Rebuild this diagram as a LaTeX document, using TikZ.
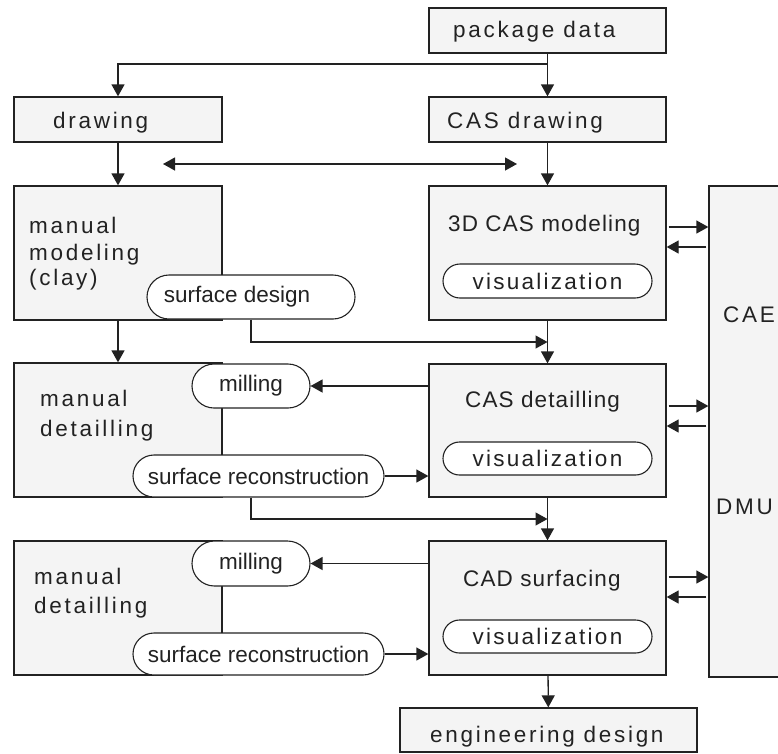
\documentclass[tikz,border=0pt]{standalone}
\usepackage{fontspec}
\setmainfont{Liberation Sans}
\newfontfamily\fA[LetterSpace=12]{Liberation Sans}
\newfontfamily\fB[LetterSpace=5]{Liberation Sans}
\newfontfamily\fC[LetterSpace=10]{Liberation Sans}
\newcommand{\fsz}{\fontsize{22.5}{27}\selectfont}
\usetikzlibrary{arrows.meta,shapes.misc}
\definecolor{boxgray}{HTML}{F4F4F4}
\definecolor{linec}{HTML}{222222}
\tikzset{
  box/.style={draw=linec, line width=1.3pt, fill=boxgray, inner sep=0pt},
  pill/.style={rounded rectangle, draw=linec, line width=1.1pt, fill=white, inner sep=0pt, font=\fsz, text=linec},
  lblA/.style={anchor=base west, inner sep=0pt, font=\fA\fsz, text=linec},
  lblB/.style={anchor=base west, inner sep=0pt, font=\fB\fsz, text=linec},
  arr/.style={draw=linec, line width=1.3pt, -{Triangle[length=12pt,width=13pt]}},
  arrR/.style={arr, shorten <=2pt},
  arr2/.style={draw=linec, line width=1.3pt, {Triangle[length=12pt,width=13pt]}-{Triangle[length=12pt,width=13pt]}}
}
\begin{document}
\begin{tikzpicture}[x=1pt,y=-1pt]
\useasboundingbox (0,0) rectangle (778,753);
% boxes
\node[box, minimum width=237pt, minimum height=45pt] (pkg) at (547.5,30.5) {};
\node[box, minimum width=208pt, minimum height=45pt] (drawing) at (118,119.5) {};
\node[box, minimum width=237pt, minimum height=45pt] (casdraw) at (547.5,119.5) {};
\node[box, minimum width=208pt, minimum height=134pt] (manmod) at (118,253) {};
\node[box, minimum width=237pt, minimum height=134pt] (cas3d) at (547.5,253) {};
\node[box, minimum width=80pt, minimum height=491pt] (cae) at (749,431.5) {};
\node[box, minimum width=208pt, minimum height=134pt] (mdet1) at (118,430) {};
\node[box, minimum width=237pt, minimum height=133pt] (casdet) at (547.5,430.5) {};
\node[box, minimum width=208pt, minimum height=134pt] (mdet2) at (118,608) {};
\node[box, minimum width=237pt, minimum height=134pt] (cadsurf) at (547.5,608) {};
\node[box, minimum width=297pt, minimum height=44pt] (engdes) at (548.5,730) {};
% box labels
\node[lblA] (tpkg) at (453,37) {package data};
\node[lblA] (tdraw) at (53,128) {drawing};
\node[lblA] (tcasdraw) at (447,128) {CAS drawing};
\node[lblA] (tmm1) at (29,233) {manual};
\node[lblA] (tmm2) at (29,260) {modeling};
\node[lblA] (tmm3) at (29,285) {(clay)};
\node[lblB] (t3d) at (448,231) {3D CAS modeling};
\node[lblB] (tcasdet) at (465,407) {CAS detailling};
\node[lblB] (tcad) at (463,586) {CAD surfacing};
\node[lblA] (tmd1a) at (40,406) {manual};
\node[lblA] (tmd1b) at (40,436) {detailling};
\node[lblA] (tmd2a) at (34,584) {manual};
\node[lblA] (tmd2b) at (34,613) {detailling};
\node[lblA] (teng) at (430,742) {engineering design};
\node[lblA] (tcae) at (723,322) {CAE};
\node[lblA] (tdmu) at (716,514) {DMU};
% pills
\node[pill, font=\fC\fsz, minimum width=209pt, minimum height=34pt] (vis1) at (547.5,281) {visualization};
\node[pill, font=\fC\fsz, minimum width=209pt, minimum height=33pt] (vis2) at (547.5,458.5) {visualization};
\node[pill, font=\fC\fsz, minimum width=209pt, minimum height=33pt] (vis3) at (547.5,636.5) {visualization};
\node[pill, minimum width=208pt, minimum height=44pt] (sdes) at (251,297) {surface design\hspace*{28pt}};
\node[pill, minimum width=118pt, minimum height=44pt] (mill1) at (251,386) {milling};
\node[pill, minimum width=251pt, minimum height=42pt] (srec1) at (258.5,476) {surface reconstruction};
\node[pill, minimum width=118pt, minimum height=45pt] (mill2) at (251,563.5) {milling};
\node[pill, minimum width=251pt, minimum height=42pt] (srec2) at (258.5,654) {surface reconstruction};
% connectors
\draw[arr] (pkg) -- (casdraw);
\draw[arr] (pkg.south |- 0,64) -| (drawing.north);
\draw[arr] (drawing) -- (manmod);
\draw[arr] (casdraw) -- (cas3d);
\coordinate (dl) at (163,164);
\coordinate (dr) at (517,164);
\draw[arr2] (dl) -- (dr);
\draw[arr] (cas3d) -- (casdet);
\draw[arr] (sdes.south) |- (casdet.north |- 0,342);
\draw[arr] (manmod) -- (mdet1);
\draw[arr] (casdet.west |- mill1.east) -- (mill1.east);
\draw[arr] (srec1.east) -- (casdet.west |- srec1.east);
\draw[arr] (srec1.south -| sdes.south) |- (casdet.south |- 0,519);
\draw[arr] (casdet) -- (cadsurf);
\draw[arr] (cadsurf.west |- mill2.east) -- (mill2.east);
\draw[arr] (srec2.east) -- (cadsurf.west |- srec2.east);
\draw[arr] (cadsurf) -- (engdes);
% CAE/DMU arrows
\draw[arrR] (cas3d.east |- 0,227) -- (cae.west |- 0,227);
\draw[arrR] (cae.west |- 0,247) -- (cas3d.east |- 0,247);
\draw[arrR] (casdet.east |- 0,406) -- (cae.west |- 0,406);
\draw[arrR] (cae.west |- 0,426) -- (casdet.east |- 0,426);
\draw[arrR] (cadsurf.east |- 0,577) -- (cae.west |- 0,577);
\draw[arrR] (cae.west |- 0,597) -- (cadsurf.east |- 0,597);
\end{tikzpicture}
\end{document}
